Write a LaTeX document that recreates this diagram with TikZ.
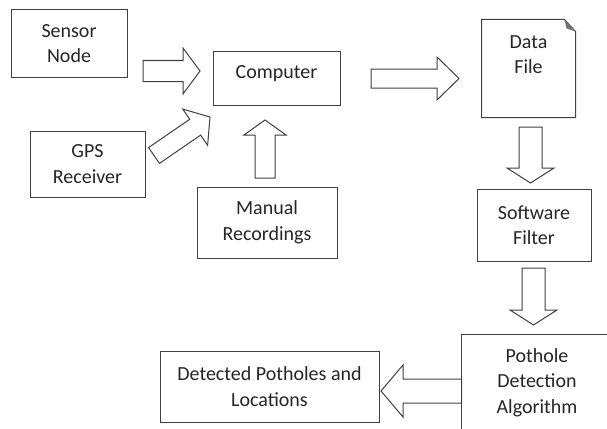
\documentclass[tikz,border=0pt]{standalone}
\usepackage{fontspec}
\setmainfont{Carlito}
\usetikzlibrary{calc}
\newcommand\hollowarrow[5]{% tail, tip, shaft half width, head half width, head length
  \coordinate (hb) at ($(#2)!#5pt!(#1)$);
  \draw[blockarrow] ($(#1)!#3pt!90:(#2)$) -- ($(hb)!#3pt!90:(#2)$) -- ($(hb)!#4pt!90:(#2)$)
    -- (#2) -- ($(hb)!#4pt!-90:(#2)$) -- ($(hb)!#3pt!-90:(#2)$) -- ($(#1)!#3pt!-90:(#2)$) -- cycle;}

\begin{document}
\begin{tikzpicture}
  [x=1pt,y=-1pt,
  boxline/.style={draw=black!75,line width=1pt},
  block/.style={rectangle,boxline,align=center,inner sep=0pt,text=black!85,
    font=\fontsize{20}{25.5}\selectfont},
  blockarrow/.style={draw=black!75,fill=white,line width=1pt,line join=miter}
  ]
  \useasboundingbox (0,0) rectangle (607,428);
  \clip (0,0) rectangle (607,428);
  \fill[white] (0,0) rectangle (607,428);

  \node[block,minimum width=116pt,minimum height=67pt] (sensor) at (69,43.5) {Sensor\\Node};
  \node[block,minimum width=127pt,minimum height=53pt,text height=13pt,text depth=13pt] (computer) at (276.5,78.5) {Computer};
  \node[block,minimum width=115pt,minimum height=66pt] (gps) at (87.5,164) {GPS\\Receiver};
  \node[block,minimum width=140pt,minimum height=71pt] (manual) at (267,222.5) {Manual\\Recordings};
  \node[block,draw=none,minimum width=93pt,minimum height=97pt,text depth=28pt] (datafile) at (528.5,68.5) {Data\\File};
  \node[block,minimum width=114pt,minimum height=72pt] (filter) at (534,225) {Software\\Filter};
  \node[block,draw=none,minimum width=150pt,minimum height=95pt] (pothole) at (537,382.5) {Pothole\\Detection\\Algorithm};
  \node[block,minimum width=219pt,minimum height=71pt] (detected) at (269.5,386.5) {Detected Potholes and\\Locations};

  % folded page
  \draw[boxline] ($(datafile.north east)+(-11,0)$) -- (datafile.north west) -- (datafile.south west)
    -- (datafile.south east) -- ($(datafile.north east)+(0,12)$) -- cycle;
  \fill[black!55] ($(datafile.north east)+(-11,0)$) -- ($(datafile.north east)+(-9,9)$) -- ($(datafile.north east)+(0,12)$) -- cycle;
  % box runs off the page
  \draw[boxline] ($(pothole.north east)+(30,0)$) -- (pothole.north west) -- ($(pothole.south west)+(0,20)$);

  \coordinate (sensortail) at (143,71);
  \coordinate (sensortip) at (200,71);
  \coordinate (gpstail) at (154,155.5);
  \coordinate (gpstip) at (210,117);
  \coordinate (manualtail) at (265,178);
  \coordinate (manualtip) at (265,120);
  \coordinate (computertail) at (371,78.5);
  \coordinate (computertip) at (459,78.5);
  \coordinate (datatail) at (530.5,127);
  \coordinate (datatip) at (530.5,183);
  \coordinate (filtertail) at (533.5,268);
  \coordinate (filtertip) at (533.5,325);
  \coordinate (detectedtip) at (381,391);

  \hollowarrow{sensortail}{sensortip}{10.5}{23}{17}
  \hollowarrow{gpstail}{gpstip}{9.6}{22}{18}
  \hollowarrow{manualtail}{manualtip}{10}{21}{15}
  \hollowarrow{computertail}{computertip}{9.5}{21.5}{22}
  \hollowarrow{datatail}{datatip}{11.5}{23.5}{15}
  \hollowarrow{filtertail}{filtertip}{11.5}{23.5}{15}
  \hollowarrow{pothole.west|-detectedtip}{detectedtip}{12}{26}{22}
\end{tikzpicture}
\end{document}
